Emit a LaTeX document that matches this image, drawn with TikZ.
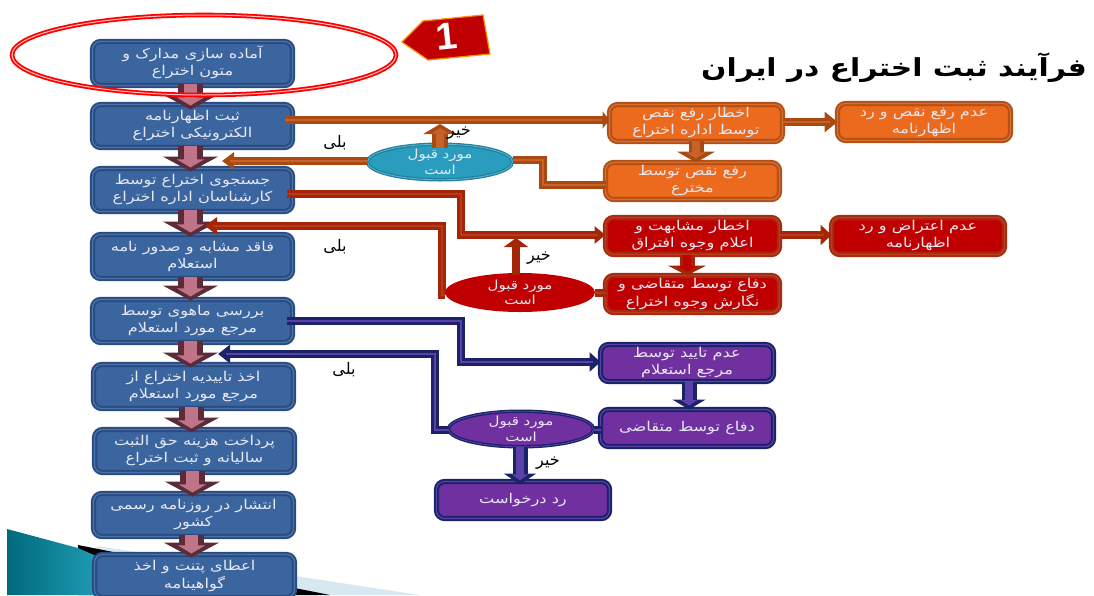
\documentclass[tikz,border=0pt]{standalone}
\usepackage{fontspec}
\usetikzlibrary{shapes.geometric,arrows.meta,calc}
\TeXXeTstate=1
\newfontfamily\arabicfont[Script=Arabic,FakeStretch=1.2]{DejaVu Sans}
\newfontfamily\labelfont[Script=Arabic]{DejaVu Sans}
\newfontfamily\digitfont{Liberation Sans}
\newcommand\fa[1]{\beginR #1\endR}
\definecolor{bluefill}{HTML}{3A659F}
\definecolor{blueedge}{HTML}{2B4B80}
\definecolor{bluemid}{HTML}{4A74AC}
\definecolor{orfill}{HTML}{EB6A1E}
\definecolor{oredge}{HTML}{B3501A}
\definecolor{ormid}{HTML}{D8702C}
\definecolor{redfill}{HTML}{C00000}
\definecolor{rededge}{HTML}{A52A10}
\definecolor{redmid}{HTML}{C03A1C}
\definecolor{purfill}{HTML}{7030A0}
\definecolor{puredge}{HTML}{1A2268}
\definecolor{purmid}{HTML}{5A40A8}
\definecolor{tealfill}{HTML}{2A9DBE}
\definecolor{tealedge}{HTML}{20809E}
\definecolor{tealmid}{HTML}{5AB8D0}
\definecolor{wine}{HTML}{5C2B3A}
\definecolor{rose}{HTML}{C07488}
\definecolor{pipeor}{HTML}{A84A12}
\definecolor{pipeorin}{HTML}{C8622A}
\definecolor{pipered}{HTML}{A52508}
\definecolor{piperedin}{HTML}{B83A18}
\definecolor{txt}{HTML}{E8E8F2}
\tikzset{
  flow/.style={rounded corners=8pt,line width=2pt,outer sep=0pt,inner sep=0pt,
    align=center,text=txt,font=\fontsize{13.5}{17}\selectfont\arabicfont},
  bluebox/.style={flow,draw=blueedge,double=bluemid,double distance=1.2pt,fill=bluefill},
  orbox/.style={flow,draw=oredge,double=ormid,double distance=1.2pt,fill=orfill},
  redbox/.style={flow,draw=rededge,double=redmid,double distance=1.2pt,fill=redfill},
  purbox/.style={flow,draw=puredge,double=purmid,double distance=1.2pt,fill=purfill},
  oval/.style={ellipse,line width=1.3pt,outer sep=0pt,inner sep=0pt,align=center,text=txt,
    double distance=.8pt,font=\fontsize{12.5}{15.5}\selectfont\arabicfont},
  answer/.style={text=black,font=\fontsize{16}{18}\selectfont\labelfont,inner sep=0pt},
}
% name, x1, y1, x2, y2, style, text
\newcommand\bx[7]{\node[#6,minimum width=#4pt-#2pt-5pt,minimum height=#5pt-#3pt-5pt] (#1)
  at ({(#2+#4)/2},{(#3+#5)/2}) {\raisebox{-1pt}{\begin{tabular}{@{}c@{}}#7\end{tabular}}};}
% outer, inner, tip options, path
\newcommand\pipe[4]{%
  \draw[line width=8pt,#1,line join=miter,-{Triangle[#3]}] #4;
  \draw[line width=1.4pt,#2,line join=miter,shorten >=8pt] #4;}
\newcommand\plainpipe[3]{%
  \draw[line width=8pt,#1,line join=miter] #3;
  \draw[line width=1.4pt,#2,line join=miter] #3;}
% outer, inner, shaft width, head width, head length, from, to
\newcommand\fat[7]{%
  \draw[line width=#3pt,#1,-{Triangle[width=#4pt,length=#5pt]}] #6 -- #7;
  \draw[line width=#3pt*0.5,#2,shorten >=4pt,-{Triangle[width=#4pt*0.5,length=#5pt*0.55]}] #6 -- #7;}
\begin{document}
\begin{tikzpicture}[x=1pt,y=-1pt]
\useasboundingbox (0,0) rectangle (1094,595);
\clip (0,0) rectangle (1094,595);
% corner decoration
\fill[white] (0,0) rectangle (1094,595);
\fill[color={rgb,255:red,214;green,232;blue,240}] (97,546) -- (420,595) -- (97,595) -- cycle;
\fill[black] (78,545) -- (330,595) -- (78,595) -- cycle;
\shade[left color={rgb,255:red,0;green,105;blue,125},right color={rgb,255:red,32;green,160;blue,182}]
  (7,529) -- (78,548) -- (105,560) -- (105,595) -- (7,595) -- cycle;
% left column
\bx{b1}{90}{39}{295}{88}{bluebox}{\fa{آماده سازی مدارک و}\\\fa{متون اختراع}}
\bx{b2}{90}{102}{295}{150}{bluebox}{\fa{ثبت اظهارنامه}\\\fa{الکترونیکی اختراع}}
\bx{b3}{90}{166}{295}{214}{bluebox}{\fa{جستجوی اختراع  توسط}\\\fa{کارشناسان اداره اختراع}}
\bx{b4}{90}{232}{295}{281}{bluebox}{\fa{فاقد مشابه و صدور نامه}\\\fa{استعلام}}
\bx{b5}{90}{297}{295}{345}{bluebox}{\fa{بررسی ماهوی توسط}\\\fa{مرجع مورد استعلام}}
\bx{b6}{91}{362}{296}{411}{bluebox}{\fa{اخذ تاییدیه اختراع از}\\\fa{مرجع مورد استعلام}}
\bx{b7}{92}{427}{297}{475}{bluebox}{\fa{پرداخت هزینه حق الثبت}\\\fa{سالیانه و ثبت اختراع}}
\bx{b8}{91}{491}{296}{539}{bluebox}{\fa{انتشار در روزنامه رسمی}\\\fa{کشور}}
\bx{b9}{92}{552}{297}{600}{bluebox}{\fa{اعطای پتنت و اخذ}\\\fa{گواهینامه}}
% orange row
\bx{o1}{607}{102}{785}{144}{orbox}{\fa{اخطار رفع نقص}\\\fa{توسط اداره اختراع}}
\bx{o2}{603}{160}{782}{202}{orbox}{\fa{رفع نقص توسط}\\\fa{مخترع}}
\bx{o3}{835}{101}{1013}{143}{orbox}{\fa{عدم رفع نقص و رد}\\\fa{اظهارنامه}}
% red row
\bx{r1}{603}{215}{782}{257}{redbox}{\fa{اخطار مشابهت و}\\\fa{اعلام وجوه افتراق}}
\bx{r2}{603}{273}{782}{315}{redbox}{\fa{دفاع توسط متقاضی و}\\\fa{نگارش وجوه اختراع}}
\bx{r3}{829}{215}{1007}{257}{redbox}{\fa{عدم اعتراض و رد}\\\fa{اظهارنامه}}
% purple row
\bx{p1}{598}{342}{776}{384}{purbox}{\fa{عدم تایید توسط}\\\fa{مرجع استعلام}}
\bx{p2}{598}{407}{776}{449}{purbox}{\fa{دفاع توسط متقاضی}}
\bx{p3}{434}{479}{612}{521}{purbox}{\fa{رد درخواست}}
% ovals
\node[oval,draw=tealedge,double=tealmid,fill=tealfill,minimum width=145pt,minimum height=35pt] (e1) at (440,162) {\fa{مورد قبول}\\\fa{است}};
\node[oval,fill=redfill,minimum width=150pt,minimum height=39pt] (e2) at (520,292.5) {\fa{مورد قبول}\\\fa{است}};
\node[oval,draw=puredge,double=purmid,fill=purfill,minimum width=145pt,minimum height=35pt] (e3) at (521,429) {\fa{مورد قبول}\\\fa{است}};
% column arrows
\fat{wine}{rose}{25}{55}{15}{($(b1.south)+(-2,-2)$)}{($(b2.north)+(-2,5)$)}
\fat{wine}{rose}{25}{55}{15}{($(b2.south)+(-2,-2)$)}{($(b3.north)+(-2,3)$)}
\fat{wine}{rose}{25}{55}{15}{($(b3.south)+(-2,-2)$)}{($(b4.north)+(-2,2)$)}
\fat{wine}{rose}{25}{55}{15}{($(b4.south)+(-2,-2)$)}{($(b5.north)+(-2,1)$)}
\fat{wine}{rose}{25}{55}{15}{($(b5.south)+(-2,-2)$)}{($(b6.north)+(-3,3)$)}
\fat{wine}{rose}{25}{55}{15}{($(b6.south)+(-2,-2)$)}{($(b7.north)+(-3,3)$)}
\fat{wine}{rose}{25}{55}{15}{($(b7.south)+(-2,-2)$)}{($(b8.north)+(-1,3)$)}
\fat{wine}{rose}{25}{55}{15}{($(b8.south)+(-2,-2)$)}{($(b9.north)+(-3,3)$)}
% orange connectors
\coordinate (oa) at (543,185);
\coordinate (ob) at (543,160);
\pipe{pipeor}{pipeorin}{width=17pt,length=7pt}{($(b2.east)+(-8,-6)$) -- (o1.west |- 0,120)}
\pipe{pipeor}{pipeorin}{width=17pt,length=12pt}{(e1.west |- 0,161) -- (222,161)}
\plainpipe{pipeor}{pipeorin}{(o2.west |- 0,185) -| (oa) |- (e1.east |- ob)}
\fat{pipeor}{pipeorin}{16}{33}{10}{($(e1.north)+(0,4)$)}{(440,124)}
\fat{pipeor}{pipeorin}{15}{38}{11}{($(o1.south)+(0,-1)$)}{($(o2.north)+(3.5,0)$)}
\pipe{pipeor}{pipeorin}{width=20pt,length=13pt}{(o1.east |- 0,122) -- (o3.west |- 0,122)}
% red connectors
\coordinate (ra) at (461,194);
\coordinate (rb) at (461,235);
\coordinate (rc) at (442,295);
\coordinate (rd) at (442,226);
\pipe{pipered}{piperedin}{width=17pt,length=11pt}{($(b3.east)+(-6,4)$) -| (rb) -- (r1.west |- rb)}
\pipe{pipered}{piperedin}{width=17pt,length=12pt}{(e2.west |- rc) -| (rd) -- (205,226)}
\draw[line width=8pt,pipered,-{Triangle[width=24pt,length=9pt]}] ($(e2.north)+(-4,2)$) -- (516,238);
\plainpipe{pipered}{piperedin}{(r2.west |- 0,293) -- (e2.east |- 0,293)}
\fat{pipered}{redfill}{15}{38}{10}{($(r1.south)+(-5.5,0)$)}{($(r2.north)+(-5.5,0)$)}
\pipe{pipered}{piperedin}{width=20pt,length=11pt}{(r1.east |- 0,235) -- (r3.west |- 0,235)}
% purple connectors
\coordinate (pa) at (461,321);
\coordinate (pb) at (461,362);
\coordinate (pc) at (435,430);
\coordinate (pd) at (435,354);
\pipe{puredge}{purmid}{width=19pt,length=11pt}{($(b5.east)+(-6,0)$) -| (pb) -- (p1.west |- pb)}
\pipe{puredge}{purmid}{width=18pt,length=12pt}{(e3.west |- pc) -| (pd) -- (218,354)}
\plainpipe{puredge}{purmid}{(p2.west |- 0,430) -- (e3.east |- 0,430)}
\fat{puredge}{purmid}{15}{33}{10}{($(p1.south)+(2,0)$)}{($(p2.north)+(2,0)$)}
\fat{puredge}{purmid}{15}{32}{11}{($(e3.south)+(-1,0)$)}{($(p3.north)+(-3,3)$)}
% answers
\node[answer] (y1) at (335,143) {\fa{بلی}};
\node[answer] (y2) at (335,247) {\fa{بلی}};
\node[answer] (y3) at (344,370) {\fa{بلی}};
\node[answer] (n1) at (459,133) {\fa{خیر}};
\node[answer] (n2) at (539,258) {\fa{خیر}};
\node[answer] (n3) at (548,463) {\fa{خیر}};
% highlight
\node[ellipse,draw=red,double=white!75!red,line width=1.8pt,double distance=1pt,
  minimum width=384pt,minimum height=80pt,inner sep=0pt] (hl) at (204,55) {};
\draw[fill=redfill,draw=orange!90!yellow,line width=1.2pt] (402,42) -- (423,21) -- (483,15) -- (490,54) -- (428,60) -- cycle;
\node[rotate=6,text=white,inner sep=0pt,font=\fontsize{38}{38}\selectfont\digitfont\bfseries] (num) at (447,36) {1};
% title
\node[text=black,inner sep=0pt,font=\fontsize{24.8}{28}\selectfont\arabicfont\bfseries] (title) at (894,68) {\fa{فرآیند ثبت اختراع در ایران}};
\end{tikzpicture}
\end{document}
